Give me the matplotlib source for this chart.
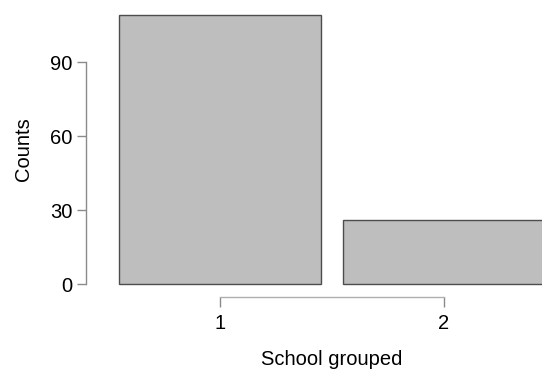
import matplotlib
matplotlib.use("Agg")
import matplotlib.pyplot as plt

# data
categories = ["1", "2"]
positions = [1, 2]
counts = [109, 26]
y_ticks = [0, 30, 60, 90]

plt.rcParams["font.family"] = ["Liberation Sans", "DejaVu Sans"]

W, H = 542, 373
fig = plt.figure(figsize=(W / 100, H / 100), dpi=100)

# axes placement in pixels (left spine at x=86, bottom spine at y=297 from top)
left_px, right_px = 86, 542
top_px, bottom_px = 0, 297
ax = fig.add_axes([left_px / W, (H - bottom_px) / H,
                   (right_px - left_px) / W, (bottom_px - top_px) / H])

# scale: x centers at 220 and 444 px, y 0 at 284 px, 90 at 62 px
px_per_x = 444 - 220
x0 = 1 - (220 - left_px) / px_per_x
x1 = 1 + (right_px - 220) / px_per_x
px_per_y = (284 - 62) / 90
y0 = -(bottom_px - 284) / px_per_y
y1 = (284 - top_px) / px_per_y

ax.bar(positions, counts, width=0.9, color="#bebebe",
       edgecolor="#4d4d4d", linewidth=1.0)

ax.set_xlim(x0, x1)
ax.set_ylim(y0, y1)

for s in ["top", "right"]:
    ax.spines[s].set_visible(False)
ax.spines["left"].set_bounds(0, 90)
ax.spines["bottom"].set_bounds(1, 2)
ax.spines["left"].set_color("#8a8a8a")
ax.spines["bottom"].set_color("#b0b0b0")
ax.spines["left"].set_linewidth(1.0)
ax.spines["bottom"].set_linewidth(1.0)

ax.set_yticks(y_ticks)
ax.set_xticks(positions)
ax.set_xticklabels(categories)
ax.tick_params(axis="y", length=6.5, width=1.0, color="#8a8a8a",
               labelsize=14.5, pad=3)
ax.tick_params(axis="x", length=7, width=1.0, color="#8a8a8a",
               labelsize=14.5, pad=5)

# axis labels
fig.text(332 / W, 1 - 365 / H, "School grouped", ha="center",
         va="baseline", fontsize=14.5)
fig.text(24 / W, 1 - 149 / H, "Counts", ha="center", va="center",
         rotation=90, fontsize=14.5)

fig.savefig("out.png", dpi=100)
